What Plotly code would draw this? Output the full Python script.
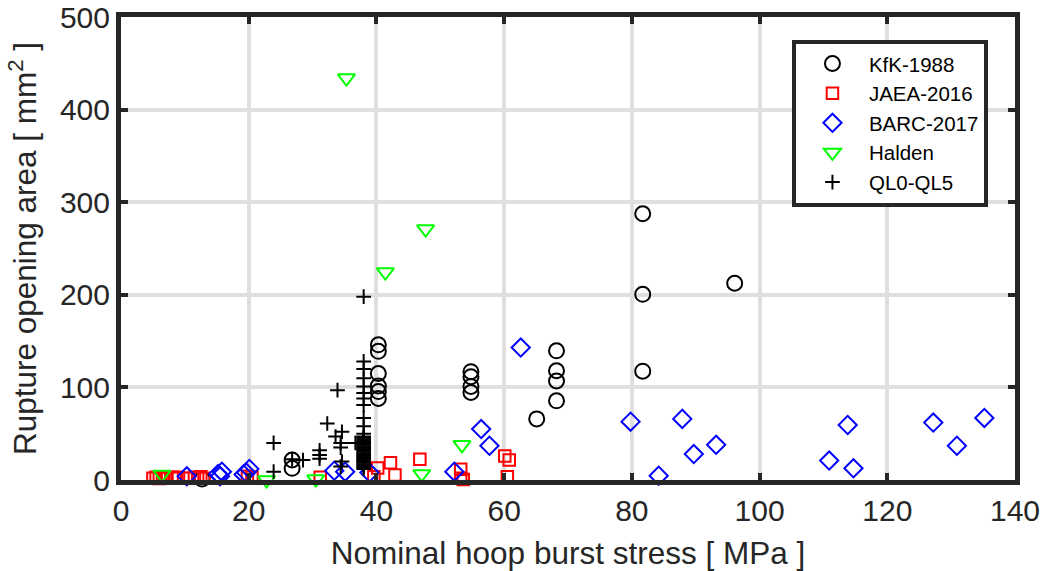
import plotly.graph_objects as go

# KfK-1988
kfk_stress = [12.7, 26.8, 26.8, 40.3, 40.3, 40.3, 40.3, 40.3, 40.3,
              54.8, 54.8, 54.8, 54.8, 65.1, 68.2, 68.2, 68.2, 68.2,
              81.7, 81.7, 81.7, 96.1]
kfk_area = [1, 21.6, 12.6, 146, 139, 115, 101.5, 95.5, 88,
            117, 111.5, 101, 94.5, 66, 139.5, 118, 107, 85.5,
            287.5, 200.5, 117.5, 212.5]

# JAEA-2016
jaea_stress = [5.0, 5.5, 6.0, 6.5, 7.0, 8.0, 8.5, 9.0, 10.5, 11.5, 12.0, 12.5, 13.0,
               19.8, 20.5, 31.2, 39.6, 40.2, 42.2, 42.9, 46.8, 53.2, 53.2, 53.6,
               60.5, 60.1, 60.8]
jaea_area = [2, 3, 1.5, 2.5, 2, 3, 2, 3, 2, 3, 2, 3.5, 2,
             4, 3, 3, 3.6, 13, 18.7, 5.4, 22.3, 11.5, 2, 0.5,
             3.6, 26, 21.6]

# BARC-2017
barc_stress = [10.3, 15.2, 15.8, 15.5, 19.2, 19.6, 20.1, 33.4, 35.1, 38.9, 52.2,
               56.4, 57.7, 62.6, 79.8, 84.2, 87.9, 89.7, 93.2,
               110.9, 113.8, 114.7, 127.2, 130.9, 135.2]
barc_area = [4, 6.5, 9, 4, 6, 8, 12, 10, 9, 8, 9,
             55, 37, 143, 63, 4.6, 66, 28, 38,
             21, 59.4, 12.6, 62, 37, 67]

# Halden
halden_stress = [6.4, 22.8, 30.5, 35.3, 41.4, 47.1, 47.7, 53.4]
halden_area = [6, 0, 1, 434, 224.5, 6.5, 271, 38]

# QL0-QL5
ql_stress = [23.9, 23.9, 26.8, 28.5, 31.1, 31.1, 31.1, 32.3, 33.9,
             34.6, 33.6, 34.4, 34.4, 34.6, 34.4, 36.7,
             38.0, 38.0, 38.0, 38.0, 38.0, 38.0, 38.0, 38.0, 38.0, 38.0, 38.0,
             38.0, 38.0, 38.0, 38.0, 38.0, 38.0, 38.0, 38.0, 38.0, 38.0, 38.0,
             38.0, 38.0, 38.0, 38.0, 38.0, 38.0, 38.0, 38.0, 38.0, 38.0, 38.0,
             38.0, 38.0]
ql_area = [40, 9, 22.5, 21.5, 32, 27, 23, 61, 97,
           52, 47, 40, 35, 20, 14.5, 40,
           198, 128, 120, 110, 101, 94, 88, 81, 67, 58, 50,
           47, 45.5, 44, 42.5, 41, 39.5, 38, 36.5, 35, 33.5, 32,
           30.5, 29, 27.5, 26, 24.5, 23, 21.5, 20, 18.5, 17, 15.5,
           14, 12]

x_ticks = [0, 20, 40, 60, 80, 100, 120, 140]
y_ticks = [0, 100, 200, 300, 400, 500]

INK = "#262626"
FONT = "Liberation Sans, Arial, sans-serif"

fig = go.Figure()

fig.add_trace(go.Scatter(
    x=kfk_stress, y=kfk_area, mode="markers", name="KfK-1988",
    marker=dict(symbol="circle-open", size=15, color="black", line=dict(width=2)),
    cliponaxis=False))
fig.add_trace(go.Scatter(
    x=jaea_stress, y=jaea_area, mode="markers", name="JAEA-2016",
    marker=dict(symbol="square-open", size=11.5, color="#ff0000", line=dict(width=2)),
    cliponaxis=False))
fig.add_trace(go.Scatter(
    x=barc_stress, y=barc_area, mode="markers", name="BARC-2017",
    marker=dict(symbol="diamond-open", size=14, color="#0000ff", line=dict(width=2)),
    cliponaxis=False))
fig.add_trace(go.Scatter(
    x=halden_stress, y=halden_area, mode="markers", name="Halden",
    marker=dict(symbol="triangle-down-open", size=15, color="#00ff00", line=dict(width=2)),
    cliponaxis=False))
fig.add_trace(go.Scatter(
    x=ql_stress, y=ql_area, mode="markers", name="QL0-QL5",
    marker=dict(symbol="cross-thin-open", size=10.5, color="black", line=dict(width=2, color="black")),
    cliponaxis=False))

axis_common = dict(
    showline=True, linewidth=5, linecolor=INK, mirror="allticks",
    ticks="inside", ticklen=7, tickwidth=4, tickcolor=INK,
    showgrid=True, gridcolor="#dfdfdf", gridwidth=3.5,
    zeroline=False, automargin=False,
    tickfont=dict(family=FONT, size=30, color=INK),
)

fig.update_xaxes(
    range=[0, 140], tickvals=x_ticks, ticktext=[str(v) for v in x_ticks],
    title=dict(text="Nominal hoop burst stress [ MPa ]",
               font=dict(family=FONT, size=31.5, color=INK), standoff=17),
    **axis_common)
fig.update_yaxes(
    range=[0, 500], tickvals=y_ticks, ticktext=[str(v) for v in y_ticks],
    title=dict(text="Rupture opening area [ mm<sup>2</sup> ]",
               font=dict(family=FONT, size=31.5, color=INK), standoff=15),
    **axis_common)

fig.update_layout(
    width=1043, height=571,
    margin=dict(l=121, r=28, t=17, b=91),
    paper_bgcolor="white", plot_bgcolor="white",
    font=dict(family=FONT, color=INK),
    legend=dict(
        x=0.7505, y=0.951, xanchor="left", yanchor="top",
        bgcolor="white", bordercolor=INK, borderwidth=4,
        font=dict(family=FONT, size=20.5, color="black"),
        itemwidth=63,
    ),
)

fig.write_html("out.html")
